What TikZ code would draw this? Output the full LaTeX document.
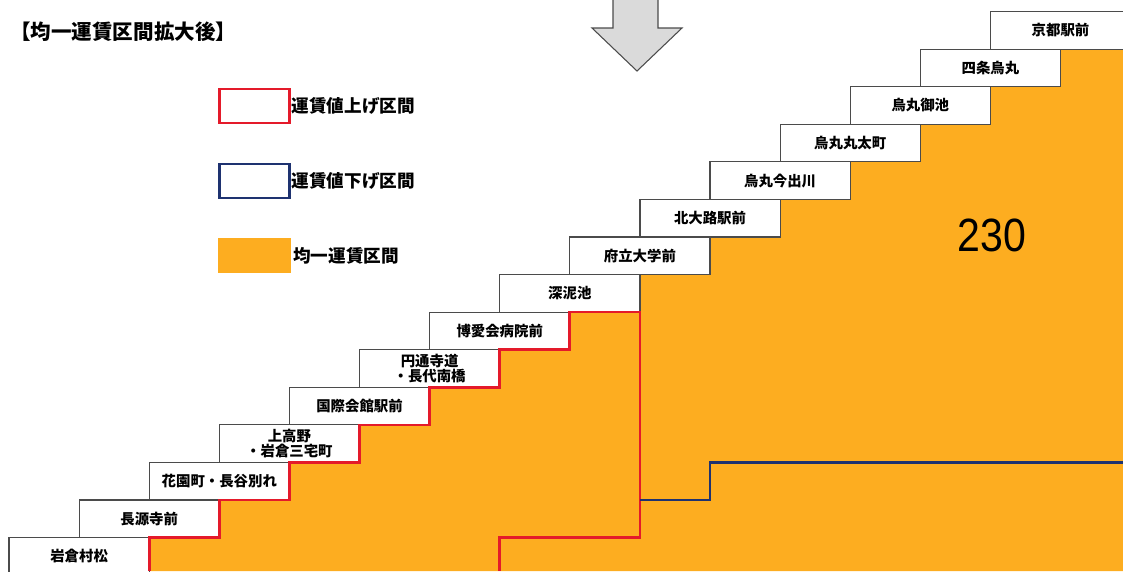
\documentclass[tikz,border=0pt]{standalone}
\usepackage{fontspec}
\setmainfont{Noto Sans CJK JP}
\newfontfamily\numfont{Liberation Sans}
\usetikzlibrary{positioning,backgrounds}
\definecolor{fareorange}{RGB}{253,173,32}
\definecolor{upred}{RGB}{228,26,42}
\definecolor{downblue}{RGB}{30,50,112}
\definecolor{edgegray}{RGB}{75,75,75}
\definecolor{arrowgray}{RGB}{218,218,218}
\tikzset{
  stationbox/.style={draw=edgegray, fill=white, line width=0.9pt, anchor=south west, outer sep=0pt, inner sep=0pt,
    minimum width=105.15pt, minimum height=28.18pt, align=center, font=\bfseries\fontsize{10.8}{11}\selectfont},
  nextstep/.style={xshift=52.575pt},
  legbox/.style={minimum width=52.5pt, minimum height=25.5pt, line width=1.6pt, inner sep=0pt, outer sep=0pt},
  legtext/.style={anchor=west, inner sep=0pt, font=\bfseries\fontsize{13.2}{14}\selectfont},
  upline/.style={draw=upred, line width=2pt},
  downline/.style={draw=downblue, line width=2pt}
}

\begin{document}
\begin{tikzpicture}[x=0.75pt, y=-0.75pt]
\useasboundingbox (0,0) rectangle (1123,571); \clip (0,0) rectangle (1123,571);
\coordinate (bot) at (0,571); \coordinate (rgt) at (1123,0);
\node[anchor=west, inner sep=0pt, font=\bfseries\fontsize{15.4}{16}\selectfont] (title) at (10,32) {【均一運賃区間拡大後】};
\filldraw[fill=arrowgray, draw=edgegray, line width=0.8pt] (613,-3) -- (613,28) -- (592,28) -- (637,71) -- (682,28) -- (658,28) -- (658,-3) -- cycle;
\node[legbox, draw=upred] (legup) at (254.5,106) {}; \node[legtext, right=1.5pt of legup] (legupt) {運賃値上げ区間};
\node[legbox, draw=downblue] (legdown) at (254.5,181) {}; \node[legtext, right=1.5pt of legdown] (legdownt) {運賃値下げ区間};
\node[legbox, fill=fareorange, minimum width=54.75pt, minimum height=26.5pt] (legflat) at (254.5,255.5) {}; \node[legtext, right=1.5pt of legflat] (legflatt) {均一運賃区間};
\node[stationbox, anchor=north west] (s0) at (9,537.6) {岩倉村松};
\node[stationbox] (s1) at ([nextstep]s0.north west) {長源寺前};
\node[stationbox] (s2) at ([nextstep]s1.north west) {花園町・長谷別れ};
\node[stationbox] (s3) at ([nextstep]s2.north west) {上高野\\・岩倉三宅町};
\node[stationbox] (s4) at ([nextstep]s3.north west) {国際会館駅前};
\node[stationbox] (s5) at ([nextstep]s4.north west) {円通寺道\\・長代南橋};
\node[stationbox] (s6) at ([nextstep]s5.north west) {博愛会病院前};
\node[stationbox] (s7) at ([nextstep]s6.north west) {深泥池};
\node[stationbox] (s8) at ([nextstep]s7.north west) {府立大学前};
\node[stationbox] (s9) at ([nextstep]s8.north west) {北大路駅前};
\node[stationbox] (s10) at ([nextstep]s9.north west) {烏丸今出川};
\node[stationbox] (s11) at ([nextstep]s10.north west) {烏丸丸太町};
\node[stationbox] (s12) at ([nextstep]s11.north west) {烏丸御池};
\node[stationbox] (s13) at ([nextstep]s12.north west) {四条烏丸};
\node[stationbox] (s14) at ([nextstep]s13.north west) {京都駅前};
\begin{scope}[on background layer]
\fill[fareorange] (s0.east |- bot) |- (s1.south east) |- (s2.south east) |- (s3.south east) |- (s4.south east) |- (s5.south east) |- (s6.south east) |- (s7.south east) |- (s8.south east) |- (s9.south east) |- (s10.south east) |- (s11.south east) |- (s12.south east) |- (s13.south east) |- (s14.south east) |- (rgt |- bot) -- cycle;
\end{scope}
\node[font=\numfont\fontsize{35}{35}\selectfont, xscale=0.88] (fare) at (992,235) {230};
\draw[upline] (s0.east |- bot) |- (s1.south east) |- (s2.south east) |- (s3.south east) |- (s4.south east) |- (s5.south east) |- (s6.south east) |- (s7.south east) |- (s7.west |- s0.north) -- (s7.west |- bot);
\draw[downline] (s7.east |- s1.north) -| (s8.east |- s2.north) -- (rgt |- s2.north);
\end{tikzpicture}
\end{document}
